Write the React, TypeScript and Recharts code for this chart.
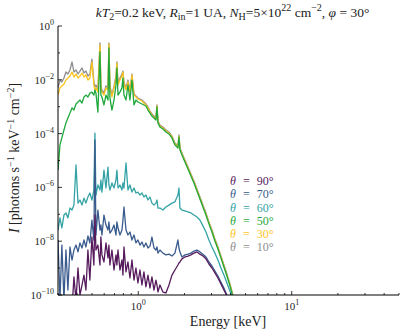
import React from "react";
import { LineChart, Line, XAxis, YAxis, Legend } from "recharts";

// photon energy grid [keV]
const energy = [
  0.300, 0.309, 0.318, 0.328, 0.338, 0.348, 0.359, 0.370, 0.381, 0.393,
  0.405, 0.417, 0.430, 0.443, 0.456, 0.470, 0.484, 0.499, 0.514, 0.522,
  0.530, 0.546, 0.563, 0.571, 0.580, 0.598, 0.616, 0.635, 0.644, 0.654,
  0.674, 0.695, 0.716, 0.726, 0.738, 0.760, 0.783, 0.795, 0.807, 0.832,
  0.857, 0.883, 0.910, 0.938, 0.966, 0.995, 1.026, 1.057, 1.089, 1.122,
  1.157, 1.192, 1.228, 1.266, 1.304, 1.324, 1.344, 1.385, 1.448, 1.515,
  1.585, 1.658, 1.734, 1.814, 1.842, 1.869, 1.926, 2.015, 2.108, 2.204,
  2.306, 2.413, 2.523, 2.639, 2.761, 2.888, 3.021, 3.160, 3.305, 3.457,
  3.616, 3.783, 3.957, 4.139, 4.330,
];

// photons s^-1 keV^-1 cm^-2, one list per inclination
const flux10 = [
  5.0e-3, 9.8e-3, 8.3e-3, 1.17e-2, 1.95e-2, 1.64e-2, 2.31e-2, 4.6e-2, 1.95e-2, 2.31e-2,
  1.64e-2, 2.12e-2, 2.75e-2, 1.79e-2, 2.12e-2, 1.38e-2, 1.64e-2, 5.9e-2, 8.3e-3, 5.4e-3,
  6.4e-3, 4.6e-3, 0.233, 5.9e-3, 4.2e-3, 3.2e-3, 5.9e-3, 5.0e-3, 0.233, 5.9e-3,
  2.7e-3, 5.9e-3, 1.38e-2, 4.6e-2, 7.6e-3, 1.17e-2, 1.64e-2, 2.12e-2, 8.3e-3, 5.0e-3,
  9.8e-3, 4.2e-3, 1.64e-2, 3.0e-3, 2.5e-3, 2.1e-3, 1.93e-3, 1.77e-3, 1.5e-3, 1.26e-3,
  9.8e-4, 6.9e-4, 5.4e-4, 4.5e-4, 3.8e-4, 1.16e-3, 2.9e-4, 2.1e-4, 1.76e-4, 1.36e-4,
  1.15e-4, 8.1e-5, 4.5e-5, 3.5e-5, 8.9e-5, 2.9e-5, 1.9e-5, 1.04e-5, 5.7e-6, 3.15e-6,
  1.73e-6, 8.7e-7, 4.4e-7, 2.2e-7, 1.12e-7, 5.2e-8, 2.6e-8, 1.21e-8, 6.1e-9, 2.8e-9,
  1.3e-9, 6.0e-10, 2.6e-10, 1.0e-10, 3.9e-11,
];
const flux30 = [
  2.7e-3, 5.0e-3, 5.9e-3, 7.0e-3, 9.8e-3, 1.17e-2, 1.38e-2, 1.95e-2, 1.27e-2, 1.64e-2,
  1.17e-2, 1.38e-2, 1.79e-2, 1.27e-2, 1.51e-2, 9.8e-3, 1.17e-2, 4.6e-2, 6.4e-3, 4.2e-3,
  5.0e-3, 3.5e-3, 0.197, 5.0e-3, 3.5e-3, 2.7e-3, 5.0e-3, 4.2e-3, 0.214, 5.0e-3,
  2.3e-3, 5.0e-3, 1.17e-2, 4.2e-2, 6.4e-3, 9.8e-3, 1.38e-2, 1.95e-2, 7.0e-3, 4.2e-3,
  8.3e-3, 3.5e-3, 1.51e-2, 2.7e-3, 2.3e-3, 1.93e-3, 1.77e-3, 1.63e-3, 1.37e-3, 1.16e-3,
  8.9e-4, 6.3e-4, 4.9e-4, 4.1e-4, 3.5e-4, 1.06e-3, 2.7e-4, 1.92e-4, 1.62e-4, 1.25e-4,
  1.05e-4, 7.5e-5, 4.1e-5, 3.2e-5, 8.1e-5, 2.7e-5, 1.74e-5, 9.6e-6, 5.3e-6, 2.9e-6,
  1.59e-6, 8.0e-7, 4.0e-7, 2.0e-7, 1.03e-7, 4.8e-8, 2.4e-8, 1.11e-8, 5.6e-9, 2.6e-9,
  1.2e-9, 5.5e-10, 2.4e-10, 9.2e-11, 3.6e-11,
];
const flux50 = [
  4.4e-6, 3.8e-5, 6.9e-5, 1.36e-4, 2.5e-4, 3.8e-4, 5.8e-4, 9.0e-4, 7.5e-4, 1.26e-3,
  1.5e-3, 1.77e-3, 1.37e-3, 2.3e-3, 2.7e-3, 2.3e-3, 3.2e-3, 3.5e-3, 2.7e-3, 4.2e-3,
  3.2e-3, 6.3e-4, 0.108, 2.7e-3, 2.3e-3, 1.16e-3, 2.7e-3, 1.77e-3, 0.152, 2.1e-3,
  7.5e-4, 1.77e-3, 6.4e-3, 2.75e-2, 2.7e-3, 3.5e-3, 5.0e-3, 1.17e-2, 2.7e-3, 1.77e-3,
  6.4e-3, 1.77e-3, 9.8e-3, 1.16e-3, 1.77e-3, 1.5e-3, 1.37e-3, 1.26e-3, 1.16e-3, 1.06e-3,
  7.5e-4, 5.8e-4, 4.5e-4, 3.8e-4, 3.2e-4, 9.8e-4, 2.5e-4, 1.76e-4, 1.48e-4, 1.15e-4,
  9.7e-5, 6.9e-5, 3.8e-5, 2.9e-5, 7.5e-5, 2.5e-5, 1.6e-5, 8.8e-6, 4.8e-6, 2.65e-6,
  1.46e-6, 7.4e-7, 3.7e-7, 1.87e-7, 9.4e-8, 4.4e-8, 2.2e-8, 1.02e-8, 5.1e-9, 2.4e-9,
  1.1e-9, 5.1e-10, 2.2e-10, 8.4e-11, 3.3e-11,
];
const flux60 = [
  2.6e-8, 7.3e-8, 3.1e-8, 9.4e-8, 1.12e-7, 7.3e-8, 1.71e-7, 1.44e-7, 2.2e-7, 6.8e-6,
  2.6e-7, 3.4e-7, 2.2e-7, 4.0e-7, 2.6e-7, 4.4e-7, 6.2e-7, 3.4e-7, 8.0e-7, 1.05e-4,
  5.2e-7, 1.23e-6, 8.0e-7, 1.88e-6, 6.7e-7, 4.4e-6, 9.5e-7, 5.7e-6, 1.23e-6, 8.0e-7,
  1.46e-6, 9.5e-7, 1.88e-6, 4.4e-6, 9.5e-7, 1.23e-6, 8.0e-7, 1.46e-6, 9.5e-7, 8.1e-6,
  8.0e-7, 1.23e-6, 6.7e-7, 9.5e-7, 6.2e-7, 6.7e-7, 5.2e-7, 6.2e-7, 4.4e-7, 5.2e-7,
  3.4e-7, 4.4e-7, 2.6e-7, 2.2e-7, 2.6e-7, 3.4e-7, 1.71e-7, 1.71e-7, 1.44e-7, 1.87e-7,
  2.2e-7, 2.6e-7, 2.9e-7, 5.2e-7, 9.5e-7, 1.71e-7, 1.44e-7, 1.33e-7, 1.22e-7, 1.12e-7,
  9.4e-8, 7.9e-8, 6.1e-8, 3.7e-8, 2.2e-8, 1.11e-8, 6.1e-9, 3.6e-9, 2.0e-9, 1.01e-9,
  5.5e-10, 2.8e-10, 1.41e-10, 6.5e-11, 2.8e-11,
];
const flux70 = [
  1.11e-8, 6.5e-11, 7.2e-9, 6.5e-11, 4.7e-9, 1.53e-10, 6.1e-9, 2.0e-9, 4.7e-9, 7.2e-9,
  4.0e-9, 8.6e-9, 5.6e-9, 1.11e-8, 6.1e-9, 1.56e-8, 8.6e-9, 6.1e-8, 1.11e-8, 5.8e-5,
  1.7e-8, 1.44e-7, 2.6e-8, 4.0e-8, 1.7e-8, 9.4e-8, 4.0e-8, 2.6e-8, 5.2e-8, 2.0e-8,
  2.6e-8, 4.0e-8, 1.7e-8, 5.2e-8, 3.1e-8, 1.7e-8, 2.6e-8, 6.1e-8, 1.87e-7, 2.6e-8,
  1.7e-8, 2.2e-8, 1.11e-8, 1.7e-8, 8.6e-9, 1.11e-8, 7.2e-9, 9.3e-9, 6.1e-9, 8.6e-9,
  5.6e-9, 6.6e-9, 1.43e-8, 5.6e-9, 4.7e-9, 6.1e-9, 3.6e-9, 4.7e-9, 3.6e-9, 3.1e-9,
  3.3e-9, 2.8e-9, 3.6e-9, 1.11e-8, 5.6e-9, 4.0e-9, 2.6e-9, 3.1e-9, 3.3e-9, 3.6e-9,
  4.3e-9, 4.7e-9, 4.0e-9, 3.3e-9, 2.6e-9, 1.69e-9, 1.2e-9, 7.8e-10, 5.1e-10, 3.0e-10,
  1.82e-10, 1.0e-10, 4.6e-11, 2.0e-11, 8.4e-12,
];
const flux90 = [
  1.2e-11, 4.3e-11, 1.8e-11, 6.5e-11, 2.8e-11, 4.3e-11, 6.5e-11, 2.8e-11, 4.7e-10, 6.5e-11,
  1.01e-9, 1.0e-10, 2.35e-10, 5.5e-10, 1.53e-10, 4.7e-9, 3.6e-10, 1.43e-8, 1.3e-9, 9.4e-8,
  4.7e-9, 7.2e-9, 1.3e-9, 1.43e-8, 3.1e-9, 1.69e-9, 8.6e-9, 2.4e-9, 7.2e-9, 1.3e-9,
  4.7e-9, 8.5e-10, 3.1e-9, 1.3e-9, 4.7e-9, 8.5e-10, 2.0e-9, 5.5e-10, 6.1e-9, 7.2e-10,
  1.69e-9, 4.3e-10, 2.0e-9, 3.6e-10, 1.01e-9, 2.8e-10, 8.5e-10, 2.35e-10, 7.2e-10, 2.0e-10,
  5.5e-10, 1.82e-10, 4.7e-10, 1.53e-10, 3.6e-10, 2.35e-10, 1.29e-10, 2.35e-10, 1.29e-10, 1.19e-10,
  2.35e-10, 5.5e-10, 8.5e-10, 1.3e-9, 1.55e-9, 1.69e-9, 2.2e-9, 2.6e-9, 2.8e-9, 3.1e-9,
  3.6e-9, 4.0e-9, 3.3e-9, 2.8e-9, 2.2e-9, 1.42e-9, 1.01e-9, 6.6e-10, 4.3e-10, 2.6e-10,
  1.53e-10, 9.2e-11, 4.3e-11, 1.8e-11, 7.7e-12,
];

const xTicks = [0.3, 0.4, 0.5, 0.6, 0.7, 0.8, 0.9, 1, 2, 3, 4, 5, 6, 7, 8, 9, 10, 20, 30, 40, 50];
const yTicks = [1e-10, 1e-9, 1e-8, 1e-7, 1e-6, 1e-5, 1e-4, 1e-3, 1e-2, 1e-1, 1];

const series = [
  { key: "t10", angle: "10", values: flux10, color: "#8e8e8e" },
  { key: "t30", angle: "30", values: flux30, color: "#fdc41d" },
  { key: "t50", angle: "50", values: flux50, color: "#1ea83c" },
  { key: "t60", angle: "60", values: flux60, color: "#34a3a6" },
  { key: "t70", angle: "70", values: flux70, color: "#3a5b8d" },
  { key: "t90", angle: "90", values: flux90, color: "#561a5c" },
];

const data = energy.map((e, i) => {
  const row: Record<string, number> = { energy: e };
  series.forEach((s) => (row[s.key] = s.values[i]));
  return row;
});

const serif = "'Liberation Serif', 'DejaVu Serif', serif";
const tickColor = "#262626";

const expOf = (v: number) => Math.round(Math.log10(v));
const isDecade = (v: number) => Math.abs(Math.log10(v) - expOf(v)) < 1e-6;
const expText = (n: number) => (n < 0 ? "\u2212" + Math.abs(n) : String(n));

function PowLabel({ x, y, exp, anchor }: { x: number; y: number; exp: number; anchor: string }) {
  return (
    <text x={x} y={y} textAnchor={anchor} fontFamily={serif} fontSize={11} fill={tickColor}>
      10
      <tspan fontSize={8} dy={-5}>
        {expText(exp)}
      </tspan>
    </text>
  );
}

const BottomTick = (props: any) => {
  const { x, y, payload } = props;
  const major = isDecade(payload.value);
  return (
    <g>
      <line x1={x} x2={x} y1={y} y2={y - (major ? 4 : 2)} stroke="#000" strokeWidth={0.8} />
      {major && <PowLabel x={x} y={y + 15} exp={expOf(payload.value)} anchor="middle" />}
    </g>
  );
};

const TopTick = (props: any) => {
  const { x, y, payload } = props;
  const major = isDecade(payload.value);
  return <line x1={x} x2={x} y1={y} y2={y + (major ? 4 : 2)} stroke="#000" strokeWidth={0.8} />;
};

const LeftTick = (props: any) => {
  const { x, y, payload } = props;
  const e = expOf(payload.value);
  const major = e % 2 === 0;
  return (
    <g>
      <line x1={x} x2={x + (major ? 4 : 2)} y1={y} y2={y} stroke="#000" strokeWidth={0.8} />
      {major && <PowLabel x={x - 4} y={y + 4} exp={e} anchor="end" />}
    </g>
  );
};

const RightTick = (props: any) => {
  const { x, y, payload } = props;
  const major = expOf(payload.value) % 2 === 0;
  return <line x1={x} x2={x - (major ? 4 : 2)} y1={y} y2={y} stroke="#000" strokeWidth={0.8} />;
};

const renderLegend = (props: any) => {
  const items = [...(props.payload || [])].reverse();
  return (
    <div style={{ fontFamily: serif, fontSize: 12, lineHeight: "13.3px" }}>
      {items.map((it: any) => (
        <div key={it.value} style={{ color: it.color, whiteSpace: "nowrap", height: 13.3 }}>
          <i>θ</i>
          <span style={{ margin: "0 7px" }}>=</span>
          {it.value}°
        </div>
      ))}
    </div>
  );
};

export default function App() {
  return (
    <div style={{ position: "absolute", left: 0, top: 0, width: 415, height: 332, background: "#fff" }}>
      <div
        style={{
          position: "absolute",
          left: 0,
          width: 415,
          top: 2,
          textAlign: "center",
          paddingLeft: 50,
          boxSizing: "border-box",
          fontFamily: serif,
          fontSize: 13.5,
          color: "#222",
          whiteSpace: "nowrap",
        }}
      >
        <i>kT</i>
        <sub style={{ fontSize: 10 }}>2</sub>=0.2 keV, <i>R</i>
        <sub style={{ fontSize: 10 }}>in</sub>=1 UA, <i>N</i>
        <sub style={{ fontSize: 10 }}>H</sub>=5×10<sup style={{ fontSize: 10 }}>22</sup> cm
        <sup style={{ fontSize: 10 }}>−2</sup>, <i>φ</i> = 30°
      </div>

      <div
        style={{
          position: "absolute",
          left: 14,
          top: 158,
          transform: "translate(-50%, -50%) rotate(-90deg)",
          fontFamily: serif,
          fontSize: 14,
          color: "#222",
          whiteSpace: "nowrap",
        }}
      >
        <i>I</i> [photons s<sup style={{ fontSize: 10 }}>−1</sup> keV<sup style={{ fontSize: 10 }}>−1</sup> cm
        <sup style={{ fontSize: 10 }}>−2</sup>]
      </div>

      <div
        style={{
          position: "absolute",
          left: 228,
          top: 322,
          transform: "translate(-50%, -50%)",
          fontFamily: serif,
          fontSize: 14,
          color: "#222",
          whiteSpace: "nowrap",
        }}
      >
        Energy [keV]
      </div>

      <LineChart
        width={415}
        height={332}
        data={data}
        margin={{ top: 26, right: 16, bottom: 7, left: 8 }}
      >
        <XAxis
          dataKey="energy"
          type="number"
          scale="log"
          domain={[0.3, 50]}
          allowDataOverflow
          ticks={xTicks}
          interval={0}
          height={30}
          tickSize={0}
          tickMargin={0}
          tickLine={false}
          axisLine={{ stroke: "#000", strokeWidth: 1 }}
          tick={<BottomTick />}
        />
        <XAxis
          xAxisId="top"
          orientation="top"
          dataKey="energy"
          type="number"
          scale="log"
          domain={[0.3, 50]}
          allowDataOverflow
          ticks={xTicks}
          interval={0}
          height={0}
          tickSize={0}
          tickMargin={0}
          tickLine={false}
          axisLine={{ stroke: "#000", strokeWidth: 1 }}
          tick={<TopTick />}
        />
        <YAxis
          type="number"
          scale="log"
          domain={[1e-10, 1]}
          allowDataOverflow
          ticks={yTicks}
          interval={0}
          width={50}
          tickSize={0}
          tickMargin={0}
          tickLine={false}
          axisLine={{ stroke: "#000", strokeWidth: 1 }}
          tick={<LeftTick />}
        />
        <YAxis
          yAxisId="right"
          orientation="right"
          type="number"
          scale="log"
          domain={[1e-10, 1]}
          allowDataOverflow
          ticks={yTicks}
          interval={0}
          width={0}
          tickSize={0}
          tickMargin={0}
          tickLine={false}
          axisLine={{ stroke: "#000", strokeWidth: 1 }}
          tick={<RightTick />}
        />
        <Legend
          layout="vertical"
          align="center"
          verticalAlign="middle"
          content={renderLegend}
          wrapperStyle={{ left: 230, top: 175, width: 90 }}
        />
        {series.map((s) => (
          <Line
            key={s.key}
            dataKey={s.key}
            name={s.angle}
            stroke={s.color}
            strokeWidth={1.3}
            strokeLinejoin="round"
            dot={false}
            type="linear"
            isAnimationActive={false}
          />
        ))}
      </LineChart>
    </div>
  );
}
